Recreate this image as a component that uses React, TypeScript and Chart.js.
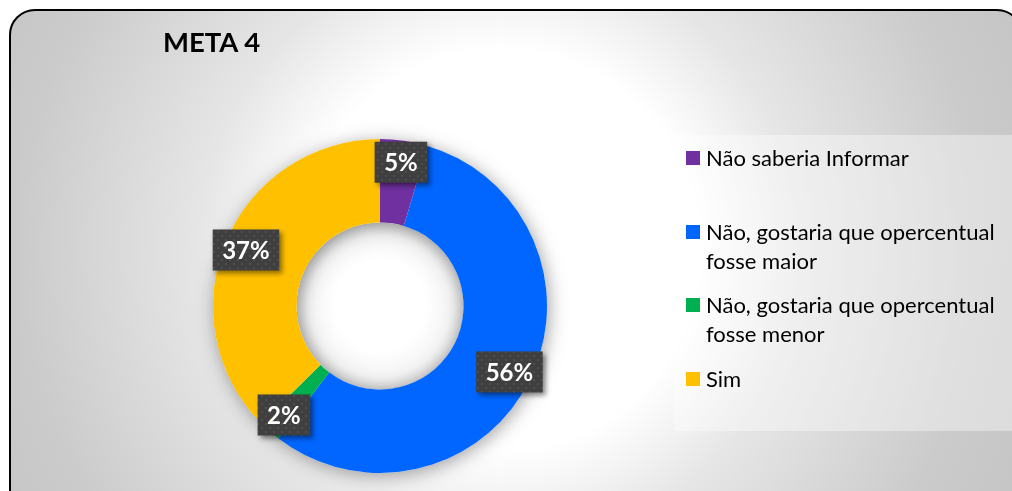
import React, { useEffect, useRef } from "react";
import { Chart, registerables } from "chart.js";

Chart.register(...registerables);

// ---- data ----
const chartTitle = "META 4";
const categories = [
  "Não saberia Informar",
  "Não, gostaria que opercentual fosse maior",
  "Não, gostaria que opercentual fosse menor",
  "Sim",
];
const values = [4.6, 55.8, 2.2, 37.4];
const colors = ["#7030A0", "#0066FF", "#00B050", "#FFC000"];

// ---- layout constants ----
const legendGaps = [0, 45, 15, 16];

function makePattern(ctx: CanvasRenderingContext2D): CanvasPattern | string {
  const c = document.createElement("canvas");
  c.width = 8;
  c.height = 8;
  const p = c.getContext("2d");
  if (!p) return "#404040";
  p.fillStyle = "#3f3f3f";
  p.fillRect(0, 0, 8, 8);
  p.fillStyle = "#4e4e4e";
  p.fillRect(1, 1, 2, 2);
  p.fillRect(5, 5, 2, 2);
  return ctx.createPattern(c, "repeat") || "#404040";
}

const ringShadow = {
  id: "ringShadow",
  beforeDatasetsDraw(chart: any) {
    const meta = chart.getDatasetMeta(0);
    if (!meta.data.length) return;
    const p = meta.data[0].getProps(["x", "y", "innerRadius", "outerRadius"], true);
    const ctx = chart.ctx as CanvasRenderingContext2D;
    ctx.save();
    // inner hole shading
    const g = ctx.createRadialGradient(p.x, p.y, 0, p.x, p.y, p.innerRadius);
    g.addColorStop(0, "#ffffff");
    g.addColorStop(0.55, "#ffffff");
    g.addColorStop(0.85, "#f3f3f3");
    g.addColorStop(1, "#dedede");
    ctx.beginPath();
    ctx.arc(p.x, p.y, p.innerRadius + 1, 0, Math.PI * 2);
    ctx.fillStyle = g;
    ctx.fill();
    // outer halo
    ctx.beginPath();
    ctx.arc(p.x, p.y, p.outerRadius, 0, Math.PI * 2);
    ctx.moveTo(p.x + p.innerRadius, p.y);
    ctx.arc(p.x, p.y, p.innerRadius, 0, Math.PI * 2, true);
    ctx.closePath();
    ctx.shadowColor = "rgba(0,0,0,0.36)";
    ctx.shadowBlur = 18;
    ctx.shadowOffsetX = 2;
    ctx.shadowOffsetY = 3;
    ctx.fillStyle = "#ffffff";
    ctx.fill("evenodd");
    ctx.restore();
  },
};

const boxLabels = {
  id: "boxLabels",
  afterDatasetsDraw(chart: any) {
    const ctx = chart.ctx as CanvasRenderingContext2D;
    const meta = chart.getDatasetMeta(0);
    const data = chart.data.datasets[0].data as number[];
    const total = data.reduce((a, b) => a + b, 0);
    const pattern = makePattern(ctx);
    ctx.save();
    ctx.font = "bold 24px Lato";
    ctx.textAlign = "center";
    ctx.textBaseline = "middle";
    meta.data.forEach((arc: any, i: number) => {
      const p = arc.getProps(
        ["x", "y", "startAngle", "endAngle", "innerRadius", "outerRadius"],
        true
      );
      const mid = (p.startAngle + p.endAngle) / 2;
      const r = p.innerRadius + (p.outerRadius - p.innerRadius) * 0.74;
      const cx = p.x + Math.cos(mid) * r;
      const cy = p.y + Math.sin(mid) * r;
      const text = Math.round((data[i] / total) * 100) + "%";
      const tw = ctx.measureText(text).width;
      const w = tw + 19;
      const h = 41;
      ctx.save();
      ctx.shadowColor = "rgba(0,0,0,0.45)";
      ctx.shadowBlur = 5;
      ctx.shadowOffsetX = 3;
      ctx.shadowOffsetY = 3;
      ctx.fillStyle = pattern as any;
      ctx.fillRect(cx - w / 2, cy - h / 2, w, h);
      ctx.restore();
      ctx.fillStyle = "#ffffff";
      ctx.fillText(text, cx, cy + 1);
    });
    ctx.restore();
  },
};

function DonutChart() {
  const ref = useRef<HTMLCanvasElement | null>(null);
  useEffect(() => {
    if (!ref.current) return;
    const chart = new Chart(ref.current, {
      type: "doughnut",
      data: {
        labels: categories,
        datasets: [
          {
            data: values,
            backgroundColor: colors,
            borderWidth: 0,
          },
        ],
      },
      options: {
        animation: false,
        responsive: true,
        maintainAspectRatio: false,
        cutout: "50%",
        layout: { padding: 33 },
        plugins: {
          legend: { display: false },
          tooltip: { enabled: false },
          title: { display: false },
        },
      },
      plugins: [ringShadow, boxLabels],
    });
    return () => chart.destroy();
  }, []);
  return <canvas ref={ref} />;
}

export default function App() {
  return (
    <div
      style={{
        position: "fixed",
        left: 9,
        top: 9,
        width: 1010,
        height: 520,
        border: "2px solid #000",
        borderRadius: 26,
        overflow: "hidden",
        background:
          "radial-gradient(circle at 489px 239px, #ffffff 0px, #ffffff 200px, #e6e6e6 300px, #dadada 380px, #cbcbcb 480px, #c6c6c6 560px)",
        fontFamily: "Lato, 'Noto Sans', sans-serif",
      }}
    >
      <div
        style={{
          position: "absolute",
          left: 152,
          top: 14.2,
          fontSize: 27.5,
          fontWeight: 700,
          lineHeight: 1.2,
          color: "#000",
          whiteSpace: "nowrap",
        }}
      >
        {chartTitle}
      </div>
      <div style={{ position: "absolute", left: 169, top: 95, width: 400, height: 400 }}>
        <DonutChart />
      </div>
      <div
        style={{
          position: "absolute",
          left: 663,
          top: 124,
          width: 400,
          height: 296,
          background: "rgba(255,255,255,0.38)",
          paddingTop: 7.8,
          boxSizing: "border-box",
        }}
      >
        {categories.map((c, i) => (
          <div
            key={c}
            style={{
              position: "relative",
              marginTop: legendGaps[i],
              marginLeft: 12,
              paddingLeft: 20,
              width: 310,
              fontSize: 22,
              lineHeight: "29px",
              color: "#000",
            }}
          >
            <span
              style={{
                position: "absolute",
                left: 0,
                top: 8,
                width: 14,
                height: 14,
                background: colors[i],
              }}
            />
            {c}
          </div>
        ))}
      </div>
    </div>
  );
}
